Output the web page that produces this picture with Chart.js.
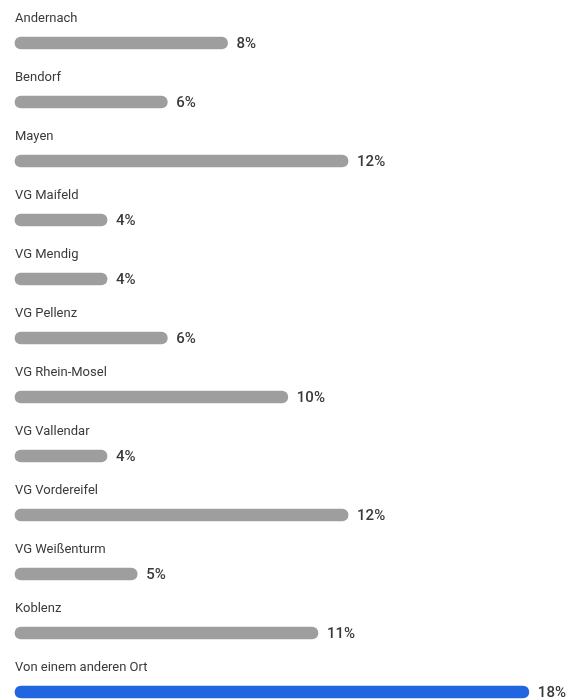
<!DOCTYPE html>
<html>
<head>
<meta charset="utf-8">
<script src="https://cdn.jsdelivr.net/npm/chart.js@4/dist/chart.umd.min.js"></script>
<style>
  html,body{margin:0;padding:0;background:#fff;}
  #wrap{width:571px;height:699px;position:relative;}
</style>
</head>
<body>
<div id="wrap"><canvas id="c"></canvas></div>
<script>
const categories = ["Andernach","Bendorf","Mayen","VG Maifeld","VG Mendig","VG Pellenz","VG Rhein-Mosel","VG Vallendar","VG Vordereifel","VG Weißenturm","Koblenz","Von einem anderen Ort"];
const values = [8,6,12,4,4,6,10,4,12,5,11,18];
const highlightIndex = 11;
const barColors = values.map((v,i)=> i===highlightIndex ? '#2265e0' : '#9e9e9e');
const axisMin = 0.945, axisMax = 19;

const labelPlugin = {
  id:'labels',
  afterDatasetsDraw(chart){
    const ctx = chart.ctx;
    const meta = chart.getDatasetMeta(0);
    ctx.save();
    meta.data.forEach((bar,i)=>{
      ctx.fillStyle = '#3a3a3a';
      ctx.font = '13px Roboto';
      ctx.textBaseline = 'middle';
      ctx.textAlign = 'left';
      ctx.fillText(categories[i], 15, bar.y - 24);
      ctx.font = '500 15px Roboto';
      ctx.fillText(values[i] + '%', bar.x + 9, bar.y + 1);
    });
    ctx.restore();
  }
};

new Chart(document.getElementById('c'),{
  type:'bar',
  data:{labels:categories,datasets:[{data:values,base:axisMin,backgroundColor:barColors,borderRadius:6,borderSkipped:false,barThickness:12,clip:false}]},
  options:{
    indexAxis:'y',
    responsive:true,maintainAspectRatio:false,animation:false,
    layout:{padding:{left:15,right:12,top:43,bottom:7}},
    plugins:{legend:{display:false},tooltip:{enabled:false}},
    scales:{
      x:{display:false,min:axisMin,max:axisMax},
      y:{display:false,offset:false}
    }
  },
  plugins:[labelPlugin]
});
</script>
</body>
</html>
